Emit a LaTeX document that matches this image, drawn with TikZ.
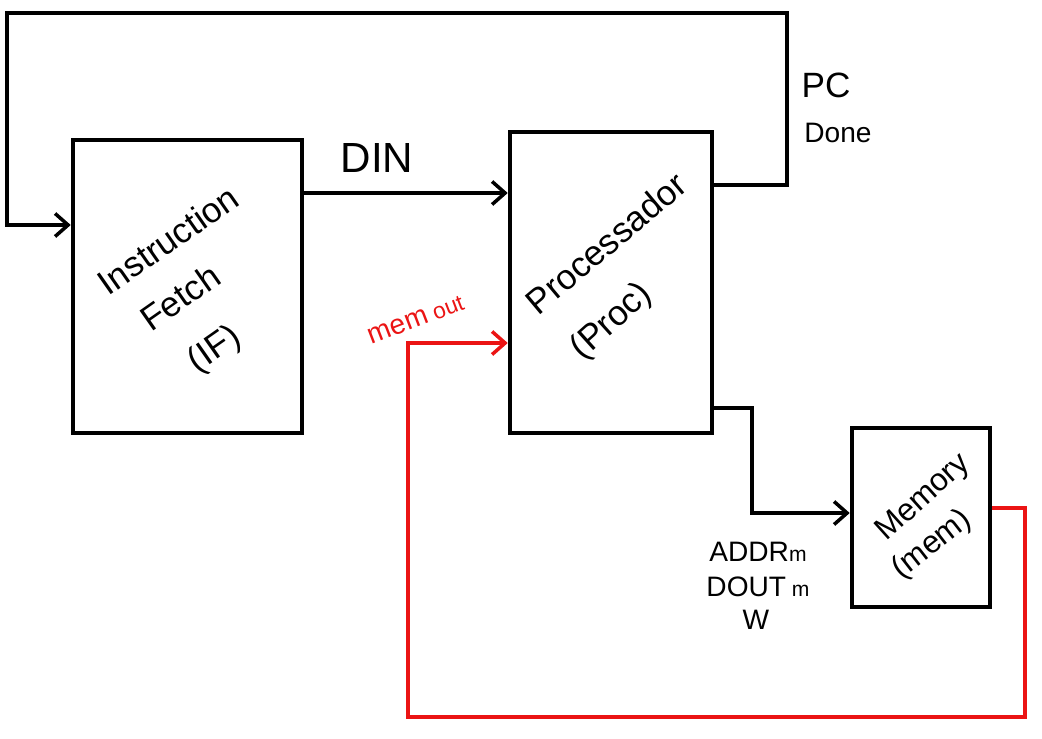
\documentclass[tikz,border=0pt]{standalone}
\usepackage{fontspec}
\setmainfont{Liberation Sans}
\usetikzlibrary{arrows.meta}
\definecolor{wirered}{RGB}{235,20,20}
\tikzset{
  blockbox/.style={draw=black, line width=2.6pt, fill=white, inner sep=0pt},
  wire/.style={draw=black, line width=2pt, line join=miter},
  redwire/.style={draw=wirered, line width=1.8pt, line join=miter},
  tip/.style={-{Straight Barb[length=2.6mm,width=4.6mm,line width=2pt]}},
  boxtext/.style={font=\fontsize{20}{22}\selectfont, inner sep=0pt},
  sigtext/.style={font=\fontsize{16}{18}\selectfont, inner sep=0pt},
}
\begin{document}
\begin{tikzpicture}[x=0.02cm, y=-0.02cm]
\useasboundingbox[fill=white] (0,0) rectangle (1042,738);

% blocks
\node[blockbox, minimum width=4.58cm, minimum height=5.86cm] (if) at (187.5,286.5) {};
\node[blockbox, minimum width=4.04cm, minimum height=6.02cm] (proc) at (611,282.5) {};
\node[blockbox, minimum width=2.76cm, minimum height=3.58cm] (mem) at (921,517.5) {};

% block texts
\node[boxtext, rotate=35] (ift1) at (168,240) {Instruction};
\node[boxtext, rotate=35] (ift2) at (180,297) {Fetch};
\node[boxtext, rotate=35] (ift3) at (215,350) {(IF)};
\node[boxtext, rotate=40] (pt1) at (606,243) {Processador};
\node[boxtext, rotate=42] (pt2) at (612,322) {(Proc)};
\node[boxtext, font=\fontsize{18}{20}\selectfont, rotate=42] (mt1) at (924,498) {Memory};
\node[boxtext, font=\fontsize{18}{20}\selectfont, rotate=38] (mt2) at (932,545) {(mem)};

% signal labels
\node[font=\fontsize{24}{26}\selectfont, inner sep=0pt] (din) at (377,158) {DIN};
\node[font=\fontsize{20}{22}\selectfont, inner sep=0pt] (pc) at (826,85) {PC};
\node[sigtext] (done) at (838,133) {Done};
\node[sigtext] (addr) at (758,552) {ADDR{\fontsize{12}{14}\selectfont m}};
\node[sigtext] (dout) at (758,587) {DOUT{\fontsize{12}{14}\selectfont\ m}};
\node[sigtext] (wl) at (756,620) {W};
\node[sigtext, text=wirered, rotate=21] (memout) at (416,320) {mem{\fontsize{13}{14}\selectfont\ out}};

% waypoints
\coordinate (pcA) at (787,185);
\coordinate (pcB) at (787,13);
\coordinate (pcC) at (7,13);
\coordinate (pcD) at (7,225);
\coordinate (amA) at (752,408);
\coordinate (amB) at (752,513);
\coordinate (moA) at (1025,508);
\coordinate (moB) at (1025,717);
\coordinate (moC) at (408,717);
\coordinate (moD) at (408,343);

% connectors
\draw[wire, tip] (if.east |- 0,193) -- (proc.west |- 0,193);
\draw[wire, tip] (proc.east |- pcA) -- (pcA) -- (pcB) -- (pcC) -- (pcD) -- (if.west |- pcD);
\draw[wire, tip] (proc.east |- amA) -- (amA) -- (amB) -- (mem.west |- amB);
\draw[redwire, tip] (mem.east |- moA) -- (moA) -- (moB) -- (moC) -- (moD) -- (proc.west |- moD);
\end{tikzpicture}
\end{document}
